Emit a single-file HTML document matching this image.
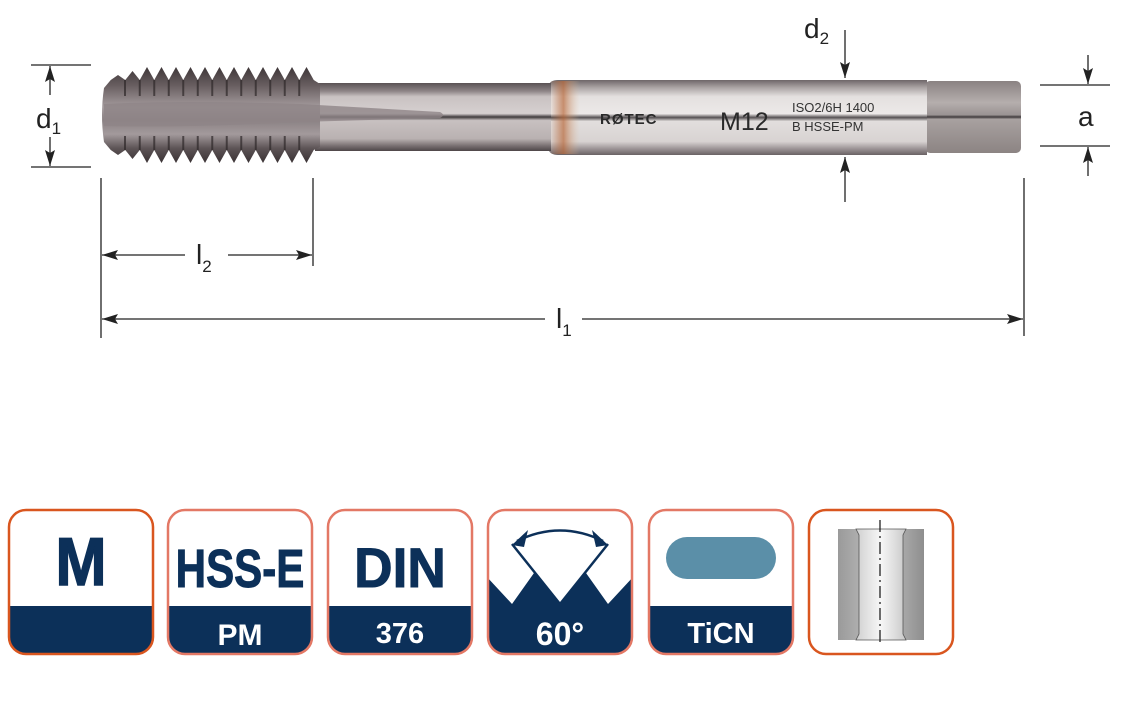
<!DOCTYPE html>
<html><head><meta charset="utf-8"><style>
html,body{margin:0;padding:0;background:#fff;}
svg{display:block;}
</style></head><body>
<svg width="1131" height="715" viewBox="0 0 1131 715" xmlns="http://www.w3.org/2000/svg">
<defs>
<linearGradient id="thr" x1="0" y1="0" x2="0" y2="1">
<stop offset="0" stop-color="#3e3638"/><stop offset="0.2" stop-color="#6a6062"/>
<stop offset="0.42" stop-color="#a59c9e"/><stop offset="0.55" stop-color="#8a8183"/>
<stop offset="0.7" stop-color="#a39a9c"/><stop offset="0.85" stop-color="#5c5355"/>
<stop offset="1" stop-color="#3a3234"/></linearGradient>
<linearGradient id="shk" x1="0" y1="0" x2="0" y2="1">
<stop offset="0" stop-color="#5a5254"/><stop offset="0.12" stop-color="#8e8587"/>
<stop offset="0.2" stop-color="#c9c2c2"/><stop offset="0.45" stop-color="#d6d0d0"/>
<stop offset="0.5" stop-color="#3f3a3c"/><stop offset="0.55" stop-color="#c8c1c1"/>
<stop offset="0.82" stop-color="#b9b1b1"/><stop offset="0.92" stop-color="#7b7274"/>
<stop offset="1" stop-color="#4e4648"/></linearGradient>
<linearGradient id="col" x1="0" y1="0" x2="0" y2="1">
<stop offset="0" stop-color="#6e6668"/><stop offset="0.1" stop-color="#aaa3a3"/>
<stop offset="0.22" stop-color="#e4e0df"/><stop offset="0.45" stop-color="#ece9e8"/>
<stop offset="0.5" stop-color="#555052"/><stop offset="0.55" stop-color="#e2dedd"/>
<stop offset="0.82" stop-color="#d8d3d2"/><stop offset="0.92" stop-color="#9a9294"/>
<stop offset="1" stop-color="#6a6264"/></linearGradient>
<linearGradient id="cop" x1="0" y1="0" x2="1" y2="0">
<stop offset="0" stop-color="#b8683a" stop-opacity="0"/><stop offset="0.45" stop-color="#b8683a" stop-opacity="0.7"/>
<stop offset="1" stop-color="#e0c0a0" stop-opacity="0"/></linearGradient>
<linearGradient id="sq" x1="0" y1="0" x2="0" y2="1">
<stop offset="0" stop-color="#8a8282"/><stop offset="0.3" stop-color="#b5aead"/>
<stop offset="0.47" stop-color="#9a9393"/><stop offset="0.5" stop-color="#3f3a3c"/>
<stop offset="0.53" stop-color="#a8a1a0"/><stop offset="1" stop-color="#8c8483"/></linearGradient>
<linearGradient id="gr" x1="0" y1="0" x2="1" y2="0">
<stop offset="0" stop-color="#9a9a9a"/><stop offset="0.5" stop-color="#c4c4c4"/><stop offset="1" stop-color="#8e8e8e"/></linearGradient>
<linearGradient id="gr2" x1="0" y1="0" x2="1" y2="0">
<stop offset="0" stop-color="#d0d0d0"/><stop offset="0.5" stop-color="#f7f7f7"/><stop offset="1" stop-color="#c8c8c8"/></linearGradient>
<marker id="ah" viewBox="0 0 16 10" refX="16" refY="5" markerWidth="16" markerHeight="10" markerUnits="userSpaceOnUse" orient="auto"><path d="M0,0 L16,5 L0,10 L3,5 z" fill="#222"/></marker>
</defs>

<rect x="925" y="81" width="96" height="72" rx="5" fill="url(#sq)"/>
<path d="M548,86 Q550,80 558,80 L927,80 L927,155 L558,155 Q550,155 548,149 z" fill="url(#col)"/>
<rect x="550" y="81" width="30" height="73" fill="url(#cop)"/>
<rect x="315" y="83" width="236" height="68" fill="url(#shk)"/>
<path d="M104,88 L110.75,80 L118,75 L125.25,80 L132.5,71 L139.75,80 L147,67 L154.25,80 L161.5,67 L168.75,80 L176,67 L183.25,80 L190.5,67 L197.75,80 L205,67 L212.25,80 L219.5,67 L226.75,80 L234,67 L241.25,80 L248.5,67 L255.75,80 L263,67 L270.25,80 L277.5,67 L284.75,80 L292,67 L299.25,80 L306.5,67 L313.75,80 L320,84 L320,147 L313.75,150 L306.5,163 L299.25,150 L292,163 L284.75,150 L277.5,163 L270.25,150 L263,163 L255.75,150 L248.5,163 L241.25,150 L234,163 L226.75,150 L219.5,163 L212.25,150 L205,163 L197.75,150 L190.5,163 L183.25,150 L176,163 L168.75,150 L161.5,163 L154.25,150 L147,163 L139.75,150 L132.5,159 L125.25,150 L118,155 L110.75,150 L104,142 Q100,115 104,88 z" fill="url(#thr)"/>
<g stroke="#2e2829" stroke-width="2" opacity="0.7">
<path d="M125,80V96M139.75,80V96M154.25,80V96M168.75,80V96M183.25,80V96M197.75,80V96M212.25,80V96M226.75,80V96M241.25,80V96M255.75,80V96M270.25,80V96M284.75,80V96M299.25,80V96"/>
<path d="M125,136V150M139.75,136V150M154.25,136V150M168.75,136V150M183.25,136V150M197.75,136V150M212.25,136V150M226.75,136V150M241.25,136V150M255.75,136V150M270.25,136V150M284.75,136V150M299.25,136V150"/>
</g>
<path d="M104,104 Q180,100 300,104 L440,112 Q446,115 440,118 L300,122 Q180,128 104,126 z" fill="#8e8587" opacity="0.8"/>
<text x="600" y="124" font-family="Liberation Sans, sans-serif" font-size="15" font-weight="bold" fill="#2a2a2a" letter-spacing="1">RØTEC</text>
<text x="720" y="130" font-family="Liberation Sans, sans-serif" font-size="25" fill="#2a2a2a">M12</text>
<text x="792" y="112" font-family="Liberation Sans, sans-serif" font-size="13" fill="#333">ISO2/6H 1400</text>
<text x="792" y="131" font-family="Liberation Sans, sans-serif" font-size="13" fill="#333">B HSSE-PM</text>

<g stroke="#222" stroke-width="1.3" fill="none">
<line x1="31" y1="65" x2="91" y2="65"/><line x1="31" y1="167" x2="91" y2="167"/>
<line x1="50" y1="95" x2="50" y2="66" marker-end="url(#ah)"/>
<line x1="50" y1="137" x2="50" y2="166" marker-end="url(#ah)"/>
<line x1="845" y1="30" x2="845" y2="78" marker-end="url(#ah)"/>
<line x1="845" y1="202" x2="845" y2="157" marker-end="url(#ah)"/>
<line x1="1040" y1="85" x2="1110" y2="85"/><line x1="1040" y1="146" x2="1110" y2="146"/>
<line x1="1088" y1="55" x2="1088" y2="84" marker-end="url(#ah)"/>
<line x1="1088" y1="176" x2="1088" y2="147" marker-end="url(#ah)"/>
<line x1="101" y1="178" x2="101" y2="338"/><line x1="313" y1="178" x2="313" y2="266"/>
<line x1="1024" y1="178" x2="1024" y2="336"/>
<line x1="185" y1="255" x2="102" y2="255" marker-end="url(#ah)"/>
<line x1="228" y1="255" x2="312" y2="255" marker-end="url(#ah)"/>
<line x1="545" y1="319" x2="102" y2="319" marker-end="url(#ah)"/>
<line x1="582" y1="319" x2="1023" y2="319" marker-end="url(#ah)"/>
</g>
<g font-family="Liberation Sans, sans-serif" fill="#222">
<text x="36" y="128" font-size="28">d<tspan font-size="17" dy="6">1</tspan></text>
<text x="804" y="38" font-size="28">d<tspan font-size="17" dy="6">2</tspan></text>
<text x="1078" y="126" font-size="28">a</text>
<text x="196" y="264" font-size="28">l<tspan font-size="17" dy="8">2</tspan></text>
<text x="556" y="328" font-size="28">l<tspan font-size="17" dy="8">1</tspan></text>
</g>

<g font-family="Liberation Sans, sans-serif" font-weight="bold" text-anchor="middle">
<clipPath id="c1"><rect x="9" y="510" width="144" height="144" rx="17"/></clipPath>
<g clip-path="url(#c1)"><rect x="0" y="606" width="170" height="60" fill="#0c3059"/></g>
<rect x="9" y="510" width="144" height="144" rx="17" fill="none" stroke="#d9561f" stroke-width="2.5"/>
<text x="81" y="585" font-size="68" fill="#0c3059" stroke="#0c3059" stroke-width="1.5" transform="translate(81 0) scale(0.9 1) translate(-81 0)">M</text>

<clipPath id="c2"><rect x="168" y="510" width="144" height="144" rx="17"/></clipPath>
<g clip-path="url(#c2)"><rect x="160" y="606" width="170" height="60" fill="#0c3059"/></g>
<rect x="168" y="510" width="144" height="144" rx="17" fill="none" stroke="#e37865" stroke-width="2.5"/>
<text x="240" y="587" font-size="54" fill="#0c3059" stroke="#0c3059" stroke-width="1" transform="translate(240 0) scale(0.78 1) translate(-240 0)">HSS-E</text>
<text x="240" y="645" font-size="30" fill="#fff">PM</text>

<clipPath id="c3"><rect x="328" y="510" width="144" height="144" rx="17"/></clipPath>
<g clip-path="url(#c3)"><rect x="320" y="606" width="170" height="60" fill="#0c3059"/></g>
<rect x="328" y="510" width="144" height="144" rx="17" fill="none" stroke="#e37865" stroke-width="2.5"/>
<text x="400" y="587" font-size="56" fill="#0c3059" stroke="#0c3059" stroke-width="1" transform="translate(400 0) scale(0.95 1) translate(-400 0)">DIN</text>
<text x="400" y="643" font-size="29" fill="#fff">376</text>

<clipPath id="c4"><rect x="488" y="510" width="144" height="144" rx="17"/></clipPath>
<g clip-path="url(#c4)"><path d="M480,577 L487,577 L512,604 L534,573 L560,604 L586,573 L608,604 L633,577 L640,577 L640,670 L480,670 z" fill="#0c3059"/></g>
<rect x="488" y="510" width="144" height="144" rx="17" fill="none" stroke="#e37865" stroke-width="2.5"/>
<g stroke="#0c3059" stroke-width="2.5" fill="none">
<path d="M512,544 L560,604 L608,544"/>
<path d="M517,541 Q560,520 603,541"/>
</g>
<path d="M512,545 L528,530 L524,547 z" fill="#0c3059"/>
<path d="M608,545 L592,530 L596,547 z" fill="#0c3059"/>
<text x="560" y="645" font-size="32" fill="#fff">60°</text>

<clipPath id="c5"><rect x="649" y="510" width="144" height="144" rx="17"/></clipPath>
<g clip-path="url(#c5)"><rect x="640" y="606" width="170" height="60" fill="#0c3059"/></g>
<rect x="649" y="510" width="144" height="144" rx="17" fill="none" stroke="#e37865" stroke-width="2.5"/>
<rect x="666" y="537" width="110" height="42" rx="21" fill="#5b8fa8"/>
<text x="721" y="643" font-size="29" fill="#fff">TiCN</text>

<rect x="809" y="510" width="144" height="144" rx="17" fill="#fff" stroke="#d9561f" stroke-width="2.5"/>
<rect x="838" y="529" width="86" height="111" fill="url(#gr)"/>
<path d="M856,529 L906,529 L903,535 L903,634 L906,640 L856,640 L859,634 L859,535 z" fill="url(#gr2)" stroke="#555" stroke-width="0.8"/>
<line x1="880" y1="520" x2="880" y2="643" stroke="#222" stroke-width="1.3" stroke-dasharray="12,4,2,4"/>
</g>
</svg>
</body></html>
